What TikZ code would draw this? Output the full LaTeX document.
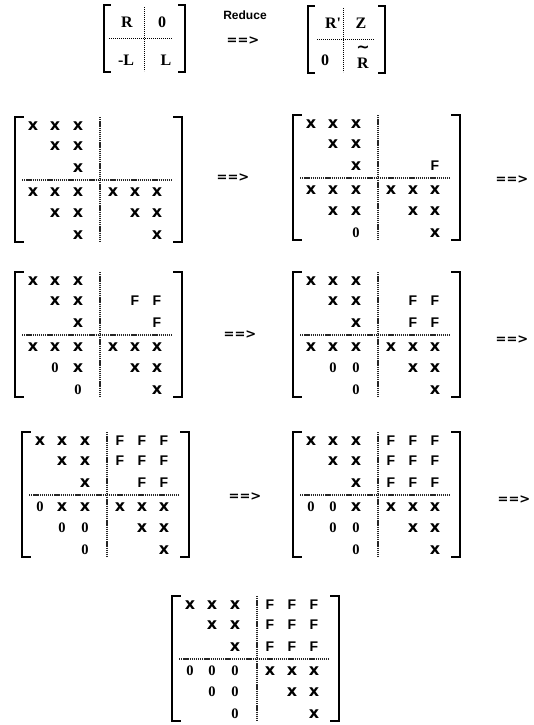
\documentclass[tikz,border=0pt]{standalone}
\usepackage{fontspec}
\setmainfont{Liberation Serif}
\setsansfont{Liberation Sans}
\newfontfamily\dejavu{DejaVu Sans}
\tikzset{
  x=1pt, y=-1pt,
  brk/.style={line width=1.8pt, line cap=rect},
  hatch/.style={line width=1.6pt, dash pattern=on 1.3pt off 0.8pt, black!85},
  dotl/.style={line width=0.8pt, dash pattern=on 0.8pt off 1.2pt},
  entx/.style={inner sep=0pt, font=\dejavu\bfseries\fontsize{16}{16}\selectfont},
  entF/.style={inner sep=0pt, font=\sffamily\bfseries\fontsize{14}{14}\selectfont},
  ent0/.style={inner sep=0pt, font=\bfseries\fontsize{14.5}{14.5}\selectfont},
  arr/.style={inner sep=0pt, font=\dejavu\bfseries\fontsize{13}{13}\selectfont},
  sml/.style={inner sep=0pt, font=\bfseries\fontsize{16}{16}\selectfont},
}
\newcommand\bigmat[4]{%
  \begin{scope}[shift={(#2,#3)}]
    \draw[brk] (8,0) -- (0,0) -- (0,125) -- (8,125);
    \draw[brk] (159,0) -- (167,0) -- (167,125) -- (159,125);
    \draw[hatch] (85,0) -- (85,125);
    \draw[hatch] (7,63) -- (157,63);
    \foreach \c/\r/\t in {#4}{
      \pgfmathsetmacro\px{{18,40,63,98,120,142}[\c-1]}
      \pgfmathsetmacro\py{{9,29,51,75,96,118}[\r-1]}
      \node[ent\t] (#1-\c-\r) at (\px,\py) {\t};
    }
  \end{scope}}
\begin{document}
\begin{tikzpicture}
\useasboundingbox (0,0) rectangle (534,725);
% top small matrices
\begin{scope}[shift={(104,5)}]
  \draw[brk] (6,0) -- (0,0) -- (0,67) -- (6,67);
  \draw[brk] (75,0) -- (81,0) -- (81,67) -- (75,67);
  \draw[dotl] (40,2) -- (40,66);
  \draw[dotl] (5,33) -- (68,33);
  \node[sml] (a11) at (23,17) {R};
  \node[sml] (a12) at (58,17) {0};
  \node[sml] (a21) at (22,55) {-L};
  \node[sml] (a22) at (62,55) {L};
\end{scope}
\node[inner sep=0pt, font=\sffamily\bfseries\fontsize{12}{12}\selectfont] (red) at (245,15) {Reduce};
\node[arr] (a0) at (243,41) {==>};
\begin{scope}[shift={(308,6)}]
  \draw[brk] (6,0) -- (0,0) -- (0,67) -- (6,67);
  \draw[brk] (71,0) -- (77,0) -- (77,67) -- (71,67);
  \draw[dotl] (35,2) -- (35,66);
  \draw[dotl] (9,33) -- (66,33);
  \node[sml] (b11) at (25,17) {R\textquotesingle};
  \node[sml] (b12) at (53,17) {Z};
  \node[sml] (b21) at (17,54) {0};
  \node[sml] (b22) at (55,57) {R};
  \node[inner sep=0pt, text height=3pt, text depth=0pt, font=\dejavu\bfseries\fontsize{16}{16}\selectfont] (b22t) at (55,45) {\textasciitilde};
\end{scope}
% row 1
\bigmat{m1}{15}{117}{1/1/x,2/1/x,3/1/x,2/2/x,3/2/x,3/3/x,1/4/x,2/4/x,3/4/x,4/4/x,5/4/x,6/4/x,2/5/x,3/5/x,5/5/x,6/5/x,3/6/x,6/6/x}
\node[arr] (e1) at (233,178) {==>};
\bigmat{m2}{293}{115}{1/1/x,2/1/x,3/1/x,2/2/x,3/2/x,3/3/x,6/3/F,1/4/x,2/4/x,3/4/x,4/4/x,5/4/x,6/4/x,2/5/x,3/5/x,5/5/x,6/5/x,3/6/0,6/6/x}
\node[arr] (e2) at (512,180) {==>};
% row 2
\bigmat{m3}{15}{272}{1/1/x,2/1/x,3/1/x,2/2/x,3/2/x,5/2/F,6/2/F,3/3/x,6/3/F,1/4/x,2/4/x,3/4/x,4/4/x,5/4/x,6/4/x,2/5/0,3/5/x,5/5/x,6/5/x,3/6/0,6/6/x}
\node[arr] (e3) at (240,335) {==>};
\bigmat{m4}{293}{272}{1/1/x,2/1/x,3/1/x,2/2/x,3/2/x,5/2/F,6/2/F,3/3/x,5/3/F,6/3/F,1/4/x,2/4/x,3/4/x,4/4/x,5/4/x,6/4/x,2/5/0,3/5/0,5/5/x,6/5/x,3/6/0,6/6/x}
\node[arr] (e4) at (512,340) {==>};
% row 3
\bigmat{m5}{22}{432}{1/1/x,2/1/x,3/1/x,4/1/F,5/1/F,6/1/F,2/2/x,3/2/x,4/2/F,5/2/F,6/2/F,3/3/x,5/3/F,6/3/F,1/4/0,2/4/x,3/4/x,4/4/x,5/4/x,6/4/x,2/5/0,3/5/0,5/5/x,6/5/x,3/6/0,6/6/x}
\node[arr] (e5) at (245,497) {==>};
\bigmat{m6}{293}{432}{1/1/x,2/1/x,3/1/x,4/1/F,5/1/F,6/1/F,2/2/x,3/2/x,4/2/F,5/2/F,6/2/F,3/3/x,4/3/F,5/3/F,6/3/F,1/4/0,2/4/0,3/4/x,4/4/x,5/4/x,6/4/x,2/5/0,3/5/0,5/5/x,6/5/x,3/6/0,6/6/x}
\node[arr] (e6) at (514,500) {==>};
% row 4
\bigmat{m7}{172}{596}{1/1/x,2/1/x,3/1/x,4/1/F,5/1/F,6/1/F,2/2/x,3/2/x,4/2/F,5/2/F,6/2/F,3/3/x,4/3/F,5/3/F,6/3/F,1/4/0,2/4/0,3/4/0,4/4/x,5/4/x,6/4/x,2/5/0,3/5/0,5/5/x,6/5/x,3/6/0,6/6/x}
\end{tikzpicture}
\end{document}
